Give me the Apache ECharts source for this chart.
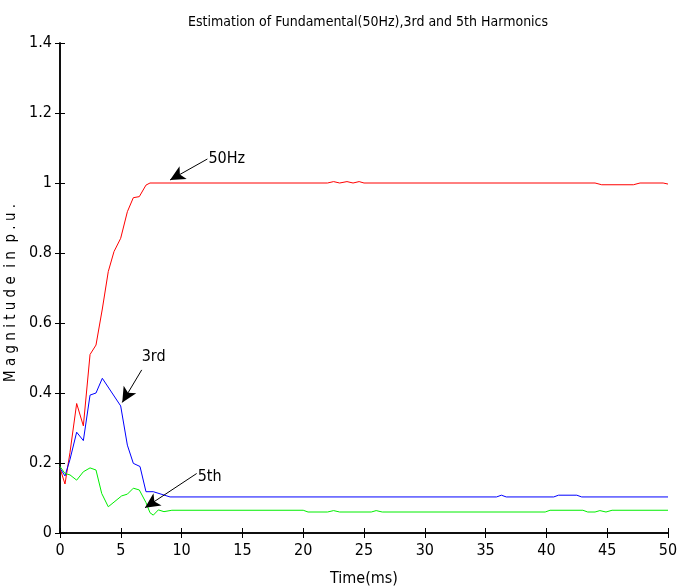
<!DOCTYPE html>
<html>
<head>
<meta charset="utf-8">
<script src="https://cdn.jsdelivr.net/npm/echarts@6/dist/echarts.min.js"></script>
<style>
html,body{margin:0;padding:0;background:#fff;}
#chart{width:686px;height:588px;}
</style>
</head>
<body>
<div id="chart"></div>
<script>
var FONT = "'Liberation Sans Narrow', 'DejaVu Sans Condensed', 'Arial Narrow', sans-serif";

var titleText = 'Estimation of Fundamental(50Hz),3rd and 5th Harmonics';
var xName = 'Time(ms)';
var yName = 'M a g n i t u d e  i n  p . u .';

var fundTime = [0, 0.41, 0.82, 1.37, 1.92, 2.47, 2.96, 3.48, 3.97, 4.44, 4.99, 5.54, 6.03, 6.52, 7.07, 7.4,
  22.0, 22.5, 23.0, 23.6, 24.1, 24.6, 25.0, 44.0, 44.55, 47.15, 47.7, 49.6, 50];
var fundMag = [0.185, 0.14, 0.23, 0.37, 0.306, 0.51, 0.537, 0.64, 0.747, 0.804, 0.842, 0.918, 0.958, 0.961, 0.994, 1.0,
  1.0, 1.004, 1.0, 1.004, 1.0, 1.004, 1.0, 1.0, 0.995, 0.995, 1.0, 1.0, 0.997];

var thirdTime = [0, 0.41, 0.82, 1.37, 1.92, 2.47, 2.96, 3.48, 4.99, 5.54, 6.03, 6.58, 7.07, 7.67, 9.05,
  35.9, 36.3, 36.7, 40.6, 41.0, 42.5, 42.9, 50];
var thirdMag = [0.185, 0.163, 0.21, 0.288, 0.264, 0.394, 0.40, 0.442, 0.363, 0.251, 0.199, 0.19, 0.118, 0.118, 0.103,
  0.103, 0.108, 0.103, 0.103, 0.108, 0.108, 0.103, 0.103];

var fifthTime = [0, 0.41, 0.82, 1.37, 1.92, 2.47, 2.96, 3.43, 3.97, 5.07, 5.54, 6.03, 6.52, 7.07, 7.4, 7.67, 8.09, 8.55, 9.2,
  20.0, 20.4, 22.0, 22.5, 23.0, 25.6, 26.0, 26.5, 39.9, 40.3, 43.0, 43.4, 44.0, 44.4, 44.9, 45.4, 50];
var fifthMag = [0.19, 0.17, 0.166, 0.151, 0.175, 0.186, 0.18, 0.113, 0.075, 0.106, 0.111, 0.128, 0.123, 0.087, 0.058, 0.051, 0.066, 0.061, 0.065,
  0.065, 0.06, 0.06, 0.064, 0.06, 0.06, 0.064, 0.06, 0.06, 0.065, 0.065, 0.06, 0.06, 0.064, 0.06, 0.065, 0.065];

// annotations
var annoLabels = ['50Hz', '3rd', '5th'];
var annoTail = [[12.12, 1.0686], [6.72, 0.466], [11.24, 0.17]];
var annoTip = [[9.05, 1.0086], [5.12, 0.373], [6.99, 0.0723]];

function pairs(t, v) { return t.map(function (x, i) { return [x, v[i]]; }); }

function mkSeries(name, t, v, color, i, offset) {
  return {
    name: name, type: 'line', data: pairs(t, v), showSymbol: false, symbol: 'none',
    lineStyle: { color: color, width: 1 }, itemStyle: { color: color },
    animation: false, z: 3,
    markLine: {
      silent: true,
      animation: false,
      symbol: ['none', 'arrow'],
      symbolSize: [11, 15],
      lineStyle: { color: '#000', width: 1, type: 'solid' },
      itemStyle: { color: '#000' },
      label: { show: false },
      emphasis: { disabled: true },
      data: [[{ coord: annoTail[i] }, { coord: annoTip[i] }]]
    },
    markPoint: {
      silent: true,
      animation: false,
      symbol: 'circle',
      symbolSize: 0,
      label: {
        show: true, position: 'right', distance: 1, offset: offset,
        formatter: annoLabels[i], color: '#000', fontFamily: FONT, fontSize: 16
      },
      data: [{ coord: annoTail[i] }]
    }
  };
}

var chart = echarts.init(document.getElementById('chart'), null, { renderer: 'canvas' });
var axisCommon = {
  axisLine: { show: true, lineStyle: { color: '#000', width: 1.5 } },
  axisTick: { show: true, inside: true, length: 5, lineStyle: { color: '#000', width: 1 } },
  splitLine: { show: false }
};
chart.setOption({
  backgroundColor: '#fff',
  title: {
    text: titleText, left: 183, top: 10,
    textStyle: { fontFamily: FONT, fontSize: 14, fontWeight: 'normal', color: '#000' }
  },
  grid: { left: 60, right: 18, top: 43, bottom: 55, outerBoundsMode: 'none', containLabel: false },
  xAxis: [
    Object.assign({
      type: 'value', min: 0, max: 50, interval: 5, position: 'bottom',
      name: xName, nameLocation: 'middle', nameGap: 38,
      nameTextStyle: { fontFamily: FONT, fontSize: 16, color: '#000' },
      axisLabel: { fontFamily: FONT, fontSize: 16, color: '#000', margin: 10 }
    }, axisCommon),
    Object.assign({
      type: 'value', min: 0, max: 50, interval: 5, position: 'top',
      axisLabel: { show: false }
    }, axisCommon)
  ],
  yAxis: [
    Object.assign({
      type: 'value', min: 0, max: 1.4, interval: 0.2, position: 'left',
      name: yName, nameLocation: 'middle', nameGap: 37,
      nameTextStyle: { fontFamily: FONT, fontSize: 15, color: '#000', padding: [0, 10, 0, 0] },
      axisLabel: { fontFamily: FONT, fontSize: 16, color: '#000', margin: 8 }
    }, axisCommon),
    Object.assign({
      type: 'value', min: 0, max: 1.4, interval: 0.2, position: 'right',
      axisLabel: { show: false }
    }, axisCommon)
  ],
  series: [
    mkSeries('50Hz', fundTime, fundMag, '#ff0000', 0, [0, 0]),
    mkSeries('3rd', thirdTime, thirdMag, '#0000ff', 1, [-1, -13]),
    mkSeries('5th', fifthTime, fifthMag, '#00ee00', 2, [0, 3])
  ]
});
</script>
</body>
</html>
